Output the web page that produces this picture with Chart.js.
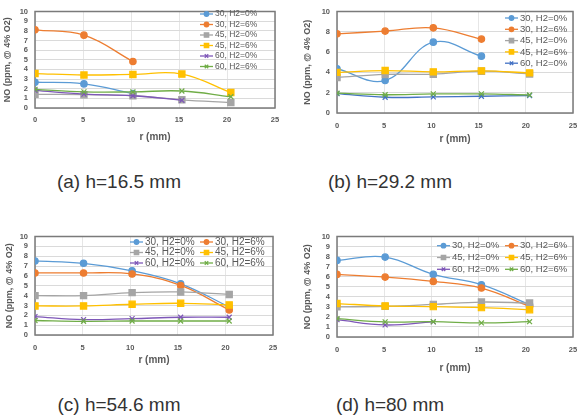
<!DOCTYPE html>
<html>
<head>
<meta charset="utf-8">
<title>NO vs r</title>
<script src="https://cdn.jsdelivr.net/npm/chart.js"></script>
<style>
  body { margin: 0; background: #fff; width: 587px; height: 415px; position: relative; overflow: hidden;
         font-family: "Liberation Sans", Arial, sans-serif; }
  .panel { position: absolute; }
  .cap { position: absolute; width: 200px; text-align: center; font-size: 19px; line-height: 22px; color: #333; }
</style>
</head>
<body>
<div class="panel" style="left:0;top:0"><canvas id="ca" width="290" height="145"></canvas></div>
<div class="panel" style="left:295px;top:0"><canvas id="cb" width="292" height="145"></canvas></div>
<div class="panel" style="left:0;top:225px"><canvas id="cc" width="290" height="145"></canvas></div>
<div class="panel" style="left:295px;top:225px"><canvas id="cd" width="292" height="150"></canvas></div>

<div class="cap" style="left:19px;top:171px">(a) h=16.5 mm</div>
<div class="cap" style="left:290px;top:171px">(b) h=29.2 mm</div>
<div class="cap" style="left:19px;top:394px">(c) h=54.6 mm</div>
<div class="cap" style="left:290px;top:394px">(d) h=80 mm</div>

<script>
// radial positions (mm)
var r = [0, 5.1, 10.2, 15.3, 20.4];
var seriesNames = ['30, H2=0%', '30, H2=6%', '45, H2=0%', '45, H2=6%', '60, H2=0%', '60, H2=6%'];

// (a) h=16.5 mm
var a30h0 = [2.67, 2.5, 1.5];
var a30h6 = [8.1, 7.55, 4.82];
var a45h0 = [1.42, 1.38, 1.27, 0.85, 0.56];
var a45h6 = [3.57, 3.42, 3.48, 3.52, 1.6];
var a60h0 = [1.83, 1.44, 1.27, 0.8];
var a60h6 = [1.93, 1.67, 1.67, 1.76, 1.17];

// (b) h=29.2 mm
var b30h0 = [4.36, 3.2, 6.98, 5.6];
var b30h6 = [7.8, 8.07, 8.39, 7.28];
var b45h0 = [3.5, 3.8, 3.82, 4.12, 3.85];
var b45h6 = [4.0, 4.18, 4.05, 4.15, 3.95];
var b60h0 = [1.9, 1.55, 1.58, 1.65, 1.72];
var b60h6 = [1.95, 1.8, 1.88, 1.88, 1.78];

// (c) h=54.6 mm
var c30h0 = [7.52, 7.28, 6.52, 5.2, 2.85];
var c30h6 = [6.3, 6.3, 6.2, 5.03, 2.55];
var c45h0 = [4.0, 4.0, 4.3, 4.37, 4.12];
var c45h6 = [2.95, 2.95, 3.12, 3.22, 3.05];
var c60h0 = [1.87, 1.56, 1.66, 1.8, 1.8];
var c60h6 = [1.47, 1.39, 1.42, 1.42, 1.42];

// (d) h=80 mm
var d30h0 = [7.62, 7.95, 6.23, 5.2, 3.21];
var d30h6 = [6.23, 5.96, 5.53, 4.87, 3.05];
var d45h0 = [3.0, 3.05, 3.25, 3.48, 3.38];
var d45h6 = [3.33, 3.09, 3.02, 2.92, 2.72];
var d60h0 = [1.72, 1.2, 1.5];
var d60h6 = [1.82, 1.5, 1.52, 1.4, 1.52];

var colors = ['#5B9BD5', '#ED7D31', '#A5A5A5', '#FFC000', '#7E57B8', '#70AD47'];
var colorsB = ['#5B9BD5', '#ED7D31', '#A5A5A5', '#FFC000', '#4472C4', '#70AD47'];
var markers = ['circle', 'circle', 'rect', 'rect', 'crossRot', 'crossRot'];
var radii = [3.2, 3.2, 4.4, 4.4, 3.5, 3.5];

var textGray = '#595959';
var fontFam = '"Liberation Sans", Arial, sans-serif';

// plot area border (Excel style)
var frame = {
  id: 'frame',
  beforeDatasetsDraw: function (chart) {
    var a = chart.chartArea, ctx = chart.ctx;
    ctx.save();
    ctx.strokeStyle = '#7a7a7a';
    ctx.lineWidth = 1.5;
    ctx.strokeRect(a.left, a.top, a.right - a.left, a.bottom - a.top);
    ctx.restore();
  }
};

// legend drawn inside the plot area
var inLegend = {
  id: 'inLegend',
  afterDraw: function (chart, args, opts) {
    var ctx = chart.ctx;
    ctx.save();
    ctx.font = opts.size + 'px ' + fontFam;
    ctx.textBaseline = 'middle';
    for (var i = 0; i < opts.count; i++) {
      var ds = chart.data.datasets[i];
      var col = i % opts.cols.length, row = Math.floor(i / opts.cols.length);
      var x = opts.cols[col], y = opts.top + row * opts.step;
      ctx.strokeStyle = ds.borderColor;
      ctx.fillStyle = ds.backgroundColor;
      ctx.lineWidth = 1.3;
      ctx.beginPath();
      ctx.moveTo(x, y);
      ctx.lineTo(x + 13, y);
      ctx.stroke();
      Chart.helpers.drawPoint(ctx, { pointStyle: ds.pointStyle, radius: ds.pointRadius * 0.7, borderWidth: 1, rotation: 0 }, x + 6.5, y);
      ctx.fillStyle = textGray;
      ctx.fillText(ds.label, x + 15, y);
    }
    ctx.restore();
  }
};

function makeSets(values, cols) {
  return values.map(function (vals, i) {
    return {
      label: seriesNames[i],
      data: vals.map(function (v, j) { return { x: r[j], y: v }; }),
      showLine: true,
      tension: 0.4,
      borderColor: cols[i],
      backgroundColor: cols[i],
      borderWidth: 1.3,
      pointStyle: markers[i],
      pointRadius: radii[i],
      pointBorderWidth: 1.2,
      order: -i
    };
  });
}

function makeChart(p) {
  new Chart(document.getElementById(p.id), {
    type: 'scatter',
    data: { datasets: makeSets(p.values, p.colors) },
    options: {
      responsive: false,
      animation: false,
      events: [],
      layout: { padding: { top: p.top, right: p.right, left: 0, bottom: 0 } },
      plugins: {
        legend: { display: false },
        tooltip: { enabled: false },
        inLegend: p.legend
      },
      scales: {
        x: {
          type: 'linear', min: 0, max: 25,
          ticks: { stepSize: 5, autoSkip: false, padding: p.xTickPad, color: textGray,
                   font: { family: fontFam, size: 7.5, weight: 'bold' } },
          grid: { color: '#e6e6e6', drawTicks: false },
          border: { display: false },
          title: { display: true, text: 'r (mm)', color: textGray, padding: { top: 0, bottom: p.xTitlePad },
                   font: { family: fontFam, size: 10, weight: 'bold' } },
          afterFit: function (s) { s.height = p.xH; }
        },
        y: {
          min: 0, max: 10,
          ticks: { stepSize: p.yStep, autoSkip: false, padding: 7, color: textGray,
                   font: { family: fontFam, size: 7.5, weight: 'bold' } },
          grid: { color: '#dadada', drawTicks: false },
          border: { display: false },
          title: { display: true, text: 'NO (ppm, @ 4% O2)', color: textGray, padding: { top: p.yTitlePad, bottom: 0 },
                   font: { family: fontFam, size: 9, weight: 'bold' } },
          afterFit: function (s) { s.width = p.yW; }
        }
      }
    },
    plugins: [frame, inLegend]
  });
}

makeChart({ id: 'ca', values: [a30h0, a30h6, a45h0, a45h6, a60h0, a60h6], colors: colors, yStep: 1,
  top: 6, right: 15, yW: 35, xH: 37, xTickPad: 7, xTitlePad: 2, yTitlePad: 2.6,
  legend: { cols: [200], top: 14, step: 10.5, count: 6, size: 8.5 } });

makeChart({ id: 'cb', values: [b30h0, b30h6, b45h0, b45h6, b60h0, b60h6], colors: colorsB, yStep: 2,
  top: 11, right: 14, yW: 42, xH: 32, xTickPad: 8, xTitlePad: 0, yTitlePad: 7.6,
  legend: { cols: [210], top: 18, step: 11.3, count: 5, size: 9.5 } });

makeChart({ id: 'cc', values: [c30h0, c30h6, c45h0, c45h6, c60h0, c60h6], colors: colors, yStep: 1,
  top: 9, right: 17, yW: 35, xH: 35, xTickPad: 8, xTitlePad: 4, yTitlePad: 4.6,
  legend: { cols: [130, 200], top: 17, step: 10.5, count: 6, size: 10 } });

makeChart({ id: 'cd', values: [d30h0, d30h6, d45h0, d45h6, d60h0, d60h6], colors: colors, yStep: 1,
  top: 11, right: 14, yW: 42, xH: 38, xTickPad: 8, xTitlePad: 1, yTitlePad: 7.6,
  legend: { cols: [142, 210], top: 20.7, step: 11.8, count: 6, size: 9.5 } });
</script>
</body>
</html>
